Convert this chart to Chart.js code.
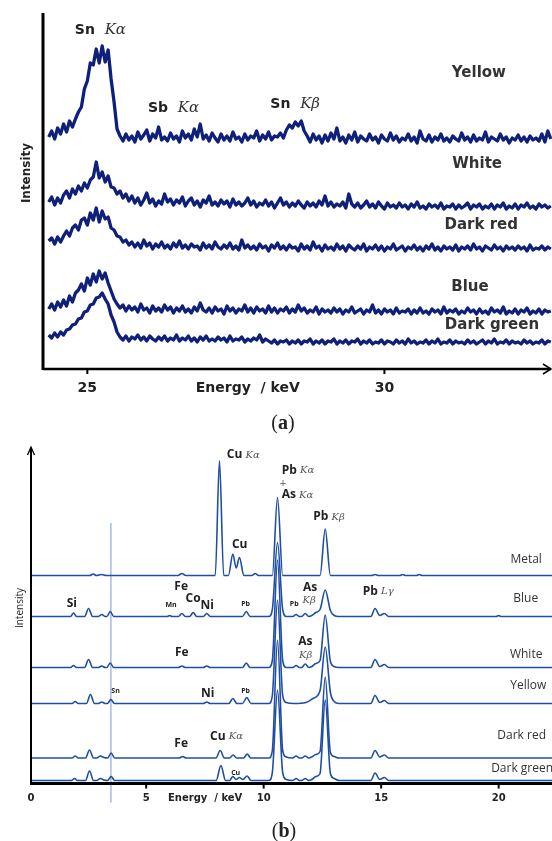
<!DOCTYPE html>
<html>
<head>
<meta charset="utf-8">
<script src="https://cdn.jsdelivr.net/npm/chart.js@4.4.1/dist/chart.umd.min.js"></script>
<style>
html, body { margin: 0; padding: 0; background: #fff; }
#wrap { position: relative; width: 552px; height: 841px; overflow: hidden; }
canvas { position: absolute; left: 0; }
#chartA { top: 0; }
#chartB { top: 440px; }
</style>
</head>
<body>
<div id="wrap">
  <canvas id="chartA" width="552" height="440"></canvas>
  <canvas id="chartB" width="552" height="401"></canvas>
</div>
<script>
// ---- panel (a): one channel every 0.05 keV starting at 24.35 keV ----
const startA = 24.35
const stepA = 0.05
const ticksA = [25, 30]
const seriesA = ['Yellow', 'White', 'Dark red', 'Blue', 'Dark green']

const yellowA = [240,246,238,249,243,253,245,256,250,258,265,270,288,296,314,312,328,314,331,315,327,298,275,248,241,
  236,243,237,241,235,245,238,242,247,236,243,239,250,237,240,236,244,238,241,235,246,239,243,237,248,240,253,238,242,236,244,239,235,243,237,241,236,245,238,240,235,243,237,241,239,246,236,242,238,245,237,241,240,244,239,
  247,252,249,255,251,256,246,241,
  235,243,237,241,234,242,236,244,238,249,236,240,234,242,237,245,235,241,238,236,243,237,240,234,242,238,236,244,237,241,235,239,237,243,236,240,234,246,238,236,242,235,240,237,243,236,239,235,241,238,236,244,237,240,235,242,236,239,237,245,235,240,238,236,243,237,240,234,239,237,242,236,240,235,241,237,239,236,243,235,246,238]
const whiteA = [175,180,172,179,174,182,186,179,188,183,191,186,194,189,197,200,215,199,205,195,201,190,189,183,186,179,183,176,
  181,174,179,172,177,184,174,178,171,176,173,183,175,178,172,177,174,180,171,176,179,172,176,170,177,174,181,172,175,171,177,173,176,170,178,172,175,171,174,179,172,176,170,174,172,177,171,175,169,174,179,172,175,170,174,171,176,172,169,175,171,174,170,176,172,181,171,175,170,173,171,175,169,183,173,170,174,169,172,176,170,173,169,175,171,168,174,170,172,169,174,170,172,168,173,170,175,169,171,168,173,170,172,169,174,168,171,170,173,168,172,169,171,174,168,172,170,173,168,171,169,173,168,172,170,174,168,171,169,173,168,172,170,174,169,171,168,173,170,172,169,171]
const darkRedA = [136,139,133,140,135,141,146,141,149,152,147,157,159,152,164,157,169,155,166,158,160,149,147,141,140,135,137,132,
  135,130,134,129,137,131,134,128,133,130,135,129,132,128,134,130,136,129,132,128,133,130,131,127,134,129,132,128,135,130,128,132,129,134,128,131,127,137,129,132,128,131,127,133,129,131,126,132,129,134,128,131,127,132,129,130,126,133,128,131,127,135,129,131,126,132,128,130,127,133,128,131,126,132,129,127,131,128,133,126,130,128,132,127,131,126,130,128,133,127,129,131,126,130,128,132,127,130,126,131,128,133,127,130,126,131,128,130,127,132,126,130,128,131,127,133,128,130,126,131,129,127,132,128,130,126,131,128,130,127,131,128,130,126,132,127,129,128,131,127,130,128]
const blueA = [68,73,67,75,70,77,71,81,75,84,87,93,86,99,92,103,95,106,98,104,94,86,78,73,69,
  72,66,71,67,70,65,73,67,69,64,71,66,69,65,72,67,70,64,69,66,71,65,68,64,70,66,74,67,65,69,64,70,66,68,63,71,66,69,64,68,66,72,65,69,64,70,66,68,64,71,65,69,64,68,66,70,64,68,65,72,66,69,64,67,65,70,63,68,65,67,64,69,65,68,63,67,65,70,64,66,68,63,67,65,72,64,67,63,68,65,67,63,69,64,66,65,68,63,67,64,69,64,66,63,68,65,67,63,70,64,67,65,68,63,66,64,69,65,67,63,68,64,66,63,69,65,67,64,70,63,66,64,68,63,67,65,69,63,66,64,68,63,67,65,66]
const darkGreenA = [42,39,44,40,45,42,47,48,52,53,58,59,65,66,72,73,79,80,84,78,73,62,55,45,40,
  37,41,36,40,38,42,37,40,36,41,38,36,40,37,41,36,39,37,42,36,39,37,41,36,39,35,40,37,41,36,38,36,40,37,39,35,41,36,38,37,40,35,38,36,39,37,42,35,38,36,34,37,33,36,35,37,33,36,34,37,33,36,35,38,33,36,34,37,33,36,35,38,33,36,34,37,33,36,35,38,33,36,34,37,33,35,34,37,33,36,35,33,37,34,36,33,38,34,36,33,35,34,37,33,36,34,38,33,35,34,37,33,36,34,35,33,37,34,36,33,35,37,33,36,34,38,33,35,34,37,33,36,34,35,33,37,34,36,33,35,34,37,33,36,35]

// ---- panel (b): spectrum points [keV, intensity] ----
const ticksB = [0, 5, 10, 15, 20]
const markerB = 3.5
const seriesB = ['Metal', 'Blue', 'White', 'Yellow', 'Dark red', 'Dark green']

const metalB = [[0.1,207],[2.6,207],[2.75,208.5],[2.88,207],[3.1,208],[3.3,207],[6.35,207],[6.52,209],[6.69,207],[7.94,207],[8.12,322],[8.3,207],[8.5,207],[8.69,228.5],[8.83,214.5],[8.97,225],[9.16,207],[9.5,207],[9.64,209],[9.78,207],[10.37,207],[10.59,285],[10.81,207],[12.4,207],[12.62,253.5],[12.84,207],[14.6,207],[14.74,208],[14.88,207],[15.8,207],[15.92,208],[16.04,207],[16.5,207],[16.62,208],[16.74,207],[22.3,207]]
const blueB = [[0.1,166],[1.78,166],[1.91,169.5],[2.04,166],[2.38,166],[2.55,174],[2.72,166],[2.96,166],[3.11,168],[3.26,166],[3.33,166],[3.47,171],[3.62,166],[5.9,166],[6.0,167],[6.1,166],[6.37,166],[6.52,169],[6.67,166],[6.85,166],[7.0,170],[7.15,166],[7.43,166],[7.58,169],[7.73,166],[9.1,166],[9.26,171],[9.42,166],[10.22,166],[10.37,173],[10.59,240],[10.81,173],[10.96,166],[11.24,166],[11.38,168],[11.52,166],[11.62,166],[11.77,169],[11.92,166],[12.05,167],[12.22,170],[12.4,173],[12.62,192.5],[12.84,172],[13.0,167],[13.2,166],[14.56,166],[14.74,174],[14.94,167],[15.14,169],[15.32,166],[19.9,166],[20.0,167],[20.1,166],[22.3,166]]
const whiteB = [[0.1,115],[1.78,115],[1.91,117],[2.04,115],[2.38,115],[2.55,123],[2.72,115],[2.96,115],[3.11,116.5],[3.26,115],[3.33,115],[3.47,119.5],[3.62,115],[6.37,115],[6.52,116.5],[6.67,115],[7.43,115],[7.58,116.5],[7.73,115],[9.1,115],[9.26,119.5],[9.42,115],[10.22,115],[10.37,122],[10.59,222.5],[10.81,122],[10.96,115],[11.24,115],[11.38,117],[11.52,115],[11.62,115],[11.77,118.5],[11.92,115],[12.05,116],[12.22,119],[12.4,122],[12.62,167.5],[12.84,121],[13.0,116],[13.2,115],[14.56,115],[14.74,123],[14.94,116],[15.14,118],[15.32,115],[22.3,115]]
const yellowB = [[0.1,79],[1.85,79],[1.98,81],[2.11,79],[2.46,79],[2.63,88],[2.8,79],[2.96,79],[3.11,80.5],[3.26,79],[3.35,79],[3.5,83],[3.65,79],[7.43,79],[7.58,80.5],[7.73,79],[8.52,79],[8.69,84],[8.86,79],[9.1,79],[9.28,85],[9.46,79],[10.22,79],[10.37,87],[10.59,182.5],[10.81,87],[10.96,80],[11.3,79],[11.8,80],[12.1,84],[12.4,92],[12.62,135.5],[12.84,90],[13.0,81],[13.2,79],[14.56,79],[14.74,87],[14.94,80],[15.14,82],[15.32,79],[22.3,79]]
const darkRedB = [[0.1,24.5],[1.85,24.5],[1.98,26.5],[2.11,24.5],[2.42,24.5],[2.59,32.5],[2.76,24.5],[2.9,24.5],[3.05,26.5],[3.2,25],[3.36,24.5],[3.51,29.5],[3.66,24.5],[6.4,24.5],[6.55,26],[6.7,24.5],[7.97,24.5],[8.15,32],[8.33,24.5],[8.55,24.5],[8.7,27.5],[8.85,24.5],[9.15,24.5],[9.3,28.5],[9.45,24.5],[10.22,24.5],[10.37,32],[10.59,142.5],[10.81,32],[10.96,25.5],[11.24,24.5],[11.38,26.5],[11.52,24.5],[11.62,24.5],[11.77,26.5],[11.92,24.5],[12.05,25.5],[12.22,28],[12.4,31],[12.62,105.5],[12.84,30],[13.0,26],[13.2,24.5],[14.56,24.5],[14.74,32],[14.94,25.5],[15.14,27.5],[15.32,24.5],[22.3,24.5]]
const darkGreenB = [[0.1,2],[1.82,2],[1.95,4],[2.08,2],[2.42,2],[2.59,11.5],[2.76,2],[2.9,2],[3.05,4],[3.2,2.5],[3.36,2],[3.51,6],[3.66,2],[7.98,2],[8.18,17],[8.38,2],[8.55,2],[8.69,6],[8.83,3],[8.97,5],[9.12,3],[9.3,6.5],[9.46,2],[10.22,2],[10.37,10],[10.59,92.5],[10.81,10],[10.96,3],[11.24,2],[11.38,4],[11.52,2],[11.62,2],[11.77,4],[11.92,2],[12.05,3],[12.22,6],[12.4,9],[12.62,82.5],[12.84,9],[13.0,4],[13.2,2],[14.56,2],[14.74,9.5],[14.94,3],[15.14,5],[15.32,2],[22.3,2]]

// ---- styles ----
const navy = '#0f207a'
const royal = '#1f4ea3'
const markerColor = '#a3bde6'

const BOLD_A = 'bold 14px "DejaVu Sans"'
const KA_A = 'italic 15px "DejaVu Serif"'
const NAME_A = 'bold 15px "DejaVu Sans"'
const EL_B = 'bold 12px "Open Sans"'
const K_B = 'italic 10px "DejaVu Serif"'
const TINY_B = 'bold 7px "Open Sans"'
const NAME_B = '12px "Open Sans"'

function drawRuns(ctx, runs, x, y, align) {
  let total = 0
  runs.forEach(r => { ctx.font = r.f; r.w = ctx.measureText(r.t).width; total += r.w })
  let cx = align === 'center' ? x - total / 2 : x
  ctx.textAlign = 'left'
  ctx.textBaseline = 'middle'
  runs.forEach(r => {
    ctx.font = r.f
    ctx.fillStyle = r.c || '#222'
    ctx.fillText(r.t, cx, y)
    cx += r.w
  })
}

function placeLabels(chart, list) {
  const ctx = chart.ctx
  const xs = chart.scales.x, ys = chart.scales.y
  list.forEach(l => drawRuns(ctx, l.runs, xs.getPixelForValue(l.x), ys.getPixelForValue(l.y), l.align || 'center'))
}

const labelsA = [
  { x: 24.79, y: 347, align: 'left', runs: [{ t: 'Sn  ', f: BOLD_A }, { t: 'Kα', f: KA_A, c: '#333' }] },
  { x: 26.02, y: 269, align: 'left', runs: [{ t: 'Sb  ', f: BOLD_A }, { t: 'Kα', f: KA_A, c: '#333' }] },
  { x: 28.08, y: 273, align: 'left', runs: [{ t: 'Sn  ', f: BOLD_A }, { t: 'Kβ', f: KA_A, c: '#333' }] },
  { x: 31.59, y: 304, runs: [{ t: seriesA[0], f: NAME_A, c: '#333' }] },
  { x: 31.56, y: 213, runs: [{ t: seriesA[1], f: NAME_A, c: '#333' }] },
  { x: 31.63, y: 152, runs: [{ t: seriesA[2], f: NAME_A, c: '#333' }] },
  { x: 31.44, y: 90, runs: [{ t: seriesA[3], f: NAME_A, c: '#333' }] },
  { x: 31.81, y: 52, runs: [{ t: seriesA[4], f: NAME_A, c: '#333' }] }
]

const labelsB = [
  { x: 8.43, y: 327.5, align: 'left', runs: [{ t: 'Cu ', f: EL_B }, { t: 'Kα', f: K_B, c: '#555' }] },
  { x: 10.77, y: 311.8, align: 'left', runs: [{ t: 'Pb ', f: EL_B }, { t: 'Kα', f: K_B, c: '#555' }] },
  { x: 10.82, y: 298.5, runs: [{ t: '+', f: '9px "DejaVu Serif"', c: '#555' }] },
  { x: 10.77, y: 287.5, align: 'left', runs: [{ t: 'As ', f: EL_B }, { t: 'Kα', f: K_B, c: '#555' }] },
  { x: 12.11, y: 265.5, align: 'left', runs: [{ t: 'Pb ', f: EL_B }, { t: 'Kβ', f: K_B, c: '#555' }] },
  { x: 8.98, y: 237.5, runs: [{ t: 'Cu', f: EL_B }] },
  { x: 21.17, y: 222.5, runs: [{ t: seriesB[0], f: NAME_B, c: '#333' }] },
  { x: 1.84, y: 178.5, runs: [{ t: 'Si', f: EL_B }] },
  { x: 6.06, y: 177.5, runs: [{ t: 'Mn', f: TINY_B }] },
  { x: 6.49, y: 195.8, runs: [{ t: 'Fe', f: EL_B }] },
  { x: 7.0, y: 183.5, runs: [{ t: 'Co', f: EL_B }] },
  { x: 7.6, y: 176.5, runs: [{ t: 'Ni', f: EL_B }] },
  { x: 9.23, y: 178.5, runs: [{ t: 'Pb', f: TINY_B }] },
  { x: 11.3, y: 178.5, runs: [{ t: 'Pb', f: TINY_B }] },
  { x: 11.98, y: 194.8, runs: [{ t: 'As', f: EL_B }] },
  { x: 11.94, y: 182.5, runs: [{ t: 'Kβ', f: K_B, c: '#555' }] },
  { x: 14.22, y: 190.8, align: 'left', runs: [{ t: 'Pb ', f: EL_B }, { t: 'Lγ', f: K_B, c: '#555' }] },
  { x: 21.15, y: 183.5, runs: [{ t: seriesB[1], f: NAME_B, c: '#333' }] },
  { x: 6.52, y: 129.5, runs: [{ t: 'Fe', f: EL_B }] },
  { x: 11.77, y: 140.8, runs: [{ t: 'As', f: EL_B }] },
  { x: 11.79, y: 127.5, runs: [{ t: 'Kβ', f: K_B, c: '#555' }] },
  { x: 21.17, y: 128.2, runs: [{ t: seriesB[2], f: NAME_B, c: '#333' }] },
  { x: 3.7, y: 91.8, runs: [{ t: 'Sn', f: TINY_B }] },
  { x: 7.62, y: 89.2, runs: [{ t: 'Ni', f: EL_B }] },
  { x: 9.23, y: 91.8, runs: [{ t: 'Pb', f: TINY_B }] },
  { x: 21.26, y: 96.5, runs: [{ t: seriesB[3], f: NAME_B, c: '#333' }] },
  { x: 6.49, y: 38.5, runs: [{ t: 'Fe', f: EL_B }] },
  { x: 7.72, y: 45.8, align: 'left', runs: [{ t: 'Cu ', f: EL_B }, { t: 'Kα', f: K_B, c: '#555' }] },
  { x: 20.98, y: 46.5, runs: [{ t: seriesB[4], f: NAME_B, c: '#333' }] },
  { x: 8.81, y: 9.2, runs: [{ t: 'Cu', f: TINY_B }] },
  { x: 19.68, y: 14.2, align: 'left', runs: [{ t: seriesB[5], f: NAME_B, c: '#333' }] }
]

function channelPoints(values) {
  return values.map((v, i) => ({ x: startA + i * stepA, y: v }))
}
function pairPoints(pairs) {
  return pairs.map(p => ({ x: p[0], y: p[1] }))
}

const axesA = {
  id: 'axesA',
  afterDraw(chart) {
    const ctx = chart.ctx
    const a = chart.chartArea
    const xs = chart.scales.x
    ctx.save()
    ctx.strokeStyle = '#000'
    ctx.lineCap = 'butt'
    // y axis
    ctx.lineWidth = 3
    ctx.beginPath(); ctx.moveTo(a.left, a.top); ctx.lineTo(a.left, a.bottom + 1); ctx.stroke()
    // x axis with arrow
    ctx.lineWidth = 2.5
    ctx.beginPath(); ctx.moveTo(a.left, a.bottom); ctx.lineTo(a.right - 1, a.bottom); ctx.stroke()
    ctx.lineWidth = 1.5
    ctx.beginPath(); ctx.moveTo(a.right - 9, a.bottom - 5); ctx.lineTo(a.right - 1, a.bottom); ctx.lineTo(a.right - 9, a.bottom + 5); ctx.stroke()
    ctx.lineWidth = 2
    ticksA.forEach(t => {
      const px = xs.getPixelForValue(t)
      ctx.beginPath(); ctx.moveTo(px, a.bottom); ctx.lineTo(px, a.bottom + 5); ctx.stroke()
      drawRuns(ctx, [{ t: String(t), f: BOLD_A }], px, a.bottom + 19, 'center')
    })
    drawRuns(ctx, [{ t: 'Energy  / keV', f: BOLD_A }], xs.getPixelForValue(27.7), a.bottom + 19, 'center')
    // y title
    ctx.save()
    ctx.translate(a.left - 16, chart.scales.y.getPixelForValue(204))
    ctx.rotate(-Math.PI / 2)
    drawRuns(ctx, [{ t: 'Intensity', f: 'bold 12px "DejaVu Sans"' }], 0, 0, 'center')
    ctx.restore()
    placeLabels(chart, labelsA)
    drawRuns(ctx, [{ t: '(', f: '20px "Liberation Serif"' }, { t: 'a', f: 'bold 20px "Liberation Serif"' }, { t: ')', f: '20px "Liberation Serif"' }], 283, 424, 'center')
    ctx.restore()
  }
}

const axesB = {
  id: 'axesB',
  afterDraw(chart) {
    const ctx = chart.ctx
    const a = chart.chartArea
    const xs = chart.scales.x
    ctx.save()
    ctx.strokeStyle = '#000'
    // y axis with arrow
    ctx.lineWidth = 2
    ctx.beginPath(); ctx.moveTo(a.left, a.top + 1); ctx.lineTo(a.left, a.bottom + 2); ctx.stroke()
    ctx.lineWidth = 1.3
    ctx.beginPath(); ctx.moveTo(a.left - 3.5, a.top + 8); ctx.lineTo(a.left, a.top); ctx.lineTo(a.left + 3.5, a.top + 8); ctx.stroke()
    // x axis
    ctx.lineWidth = 3
    ctx.beginPath(); ctx.moveTo(a.left - 1, a.bottom + 1); ctx.lineTo(a.right, a.bottom + 1); ctx.stroke()
    ctx.lineWidth = 2
    ticksB.forEach(t => {
      const px = xs.getPixelForValue(t)
      if (t > 0) { ctx.beginPath(); ctx.moveTo(px, a.bottom + 2); ctx.lineTo(px, a.bottom + 6); ctx.stroke() }
      drawRuns(ctx, [{ t: String(t), f: 'bold 10px "DejaVu Sans"' }], Math.max(px, a.left), a.bottom + 15.5, 'center')
    })
    drawRuns(ctx, [{ t: 'Energy  / keV', f: 'bold 10px "DejaVu Sans"' }], xs.getPixelForValue(7.51), a.bottom + 15.5, 'center')
    ctx.save()
    ctx.translate(a.left - 11, chart.scales.y.getPixelForValue(174.5))
    ctx.rotate(-Math.PI / 2)
    drawRuns(ctx, [{ t: 'Intensity', f: '10px "Open Sans"', c: '#222' }], 0, 0, 'center')
    ctx.restore()
    placeLabels(chart, labelsB)
    drawRuns(ctx, [{ t: '(', f: '20px "Liberation Serif"' }, { t: 'b', f: 'bold 20px "Liberation Serif"' }, { t: ')', f: '20px "Liberation Serif"' }], 284, 392, 'center')
    ctx.restore()
  }
}

new Chart(document.getElementById('chartA'), {
  type: 'scatter',
  data: {
    datasets: [yellowA, whiteA, darkRedA, blueA, darkGreenA].map((vals, i) => ({
      label: seriesA[i],
      data: channelPoints(vals),
      showLine: true,
      borderColor: navy,
      borderWidth: 3.3,
      borderJoinStyle: 'round',
      pointRadius: 0,
      tension: 0
    }))
  },
  options: {
    responsive: false,
    animation: false,
    events: [],
    layout: { padding: { left: 43, right: 0, top: 13, bottom: 71 } },
    plugins: { legend: { display: false }, tooltip: { enabled: false } },
    scales: {
      x: { type: 'linear', min: 24.254, max: 32.82, display: false },
      y: { type: 'linear', min: 8, max: 364, display: false }
    }
  },
  plugins: [axesA]
})

const spectraB = [metalB, blueB, whiteB, yellowB, darkRedB, darkGreenB].map((pairs, i) => ({
  label: seriesB[i],
  data: pairPoints(pairs),
  showLine: true,
  borderColor: royal,
  borderWidth: 1.6,
  pointRadius: 0,
  cubicInterpolationMode: 'monotone'
}))
spectraB.push({
  label: 'marker',
  data: [{ x: markerB, y: 259.5 }, { x: markerB, y: -20 }],
  showLine: true,
  borderColor: markerColor,
  borderWidth: 1.5,
  pointRadius: 0,
  tension: 0,
  clip: false
})

new Chart(document.getElementById('chartB'), {
  type: 'scatter',
  data: { datasets: spectraB },
  options: {
    responsive: false,
    animation: false,
    events: [],
    layout: { padding: { left: 31, right: 0, top: 7, bottom: 58.5 } },
    plugins: { legend: { display: false }, tooltip: { enabled: false } },
    scales: {
      x: { type: 'linear', min: 0.1, max: 22.27, display: false },
      y: { type: 'linear', min: 0, max: 335.5, display: false }
    }
  },
  plugins: [axesB]
})
</script>
</body>
</html>
